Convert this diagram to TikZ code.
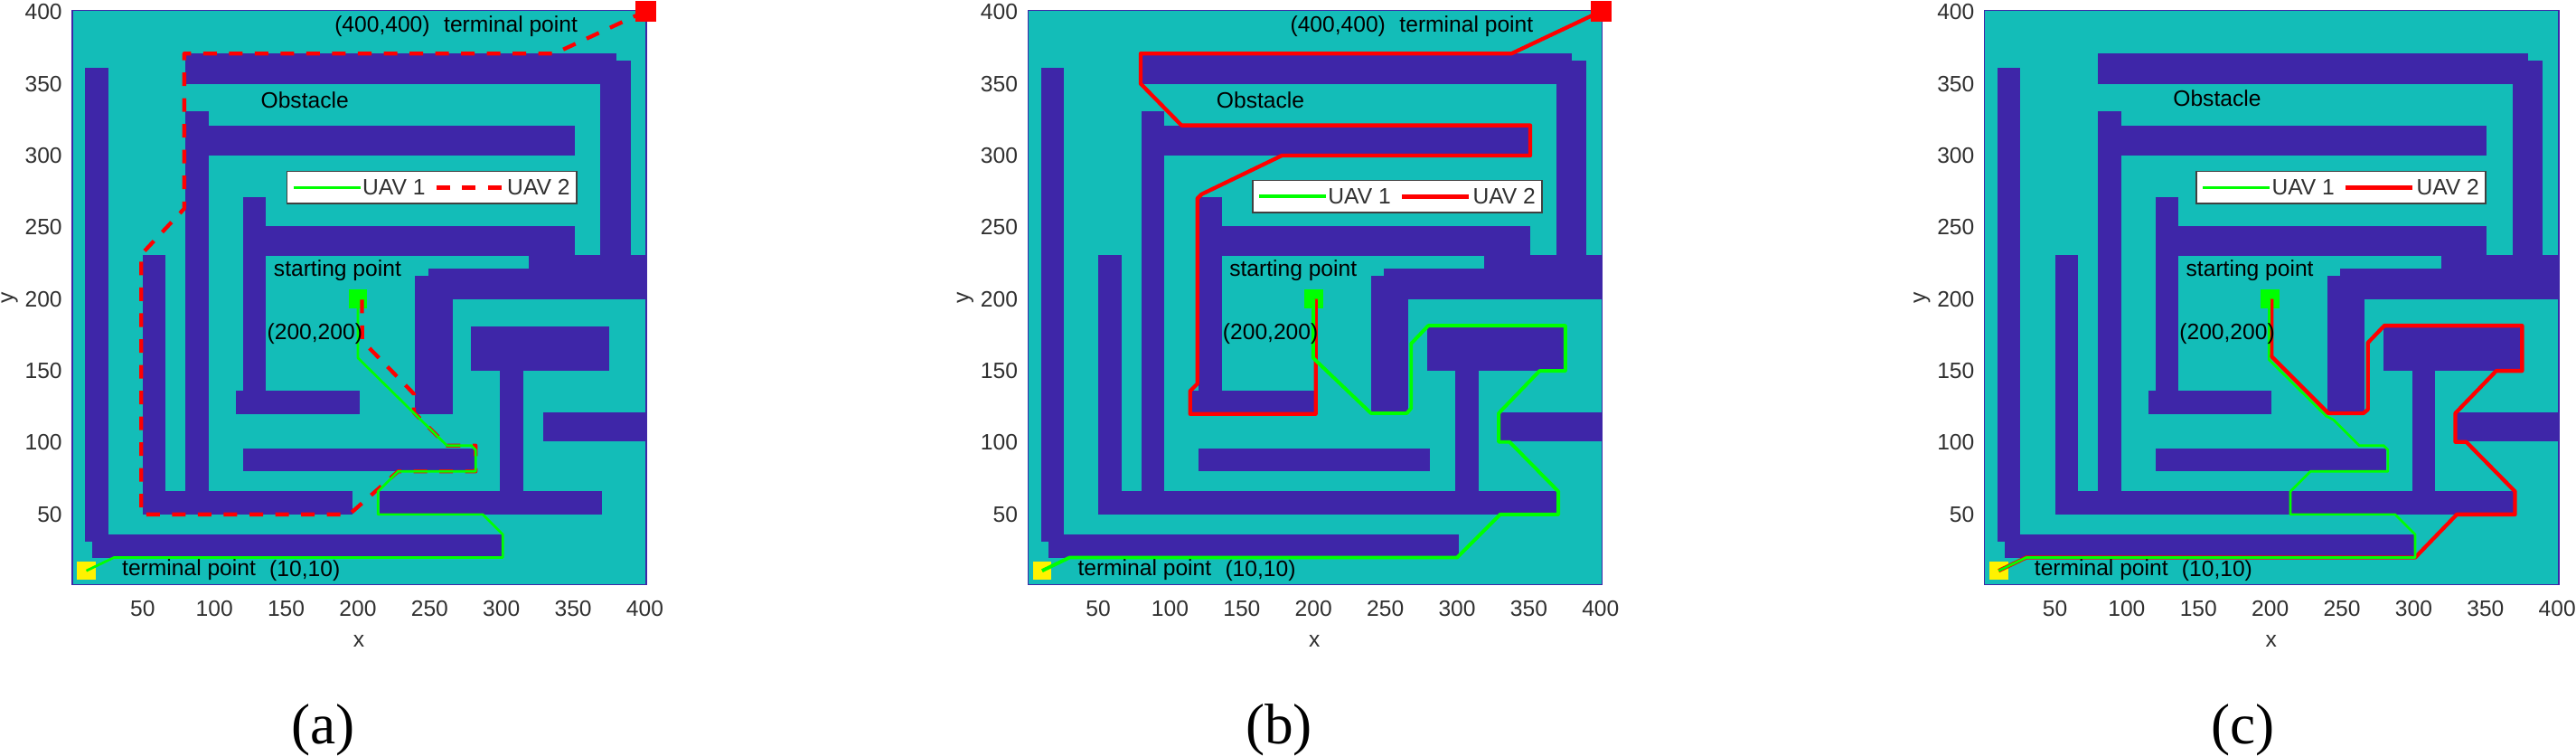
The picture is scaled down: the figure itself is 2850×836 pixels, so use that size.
\documentclass[tikz,border=0pt]{standalone}
\usepackage{fontspec}
\setmainfont{Liberation Sans}
\newfontfamily\capfont{Liberation Serif}
\definecolor{fieldteal}{HTML}{13BDB8}
\definecolor{wallblue}{HTML}{3E26A8}
\definecolor{ticktext}{HTML}{303030}
\tikzset{
  wall/.style = {fill=wallblue, draw=none},
  plaintext/.style = {inner sep=0pt, font=\fontsize{7}{8}\selectfont},
  ticklabel/.style = {plaintext, text=ticktext},
  marker/.style = {inner sep=0pt, minimum size=0.207cm},
  uavone/.style = {draw=green, line width=0.027cm, line join=round},
  uavonethick/.style = {draw=green, line width=0.039cm, line join=round},
  uavtwo/.style = {draw=red, line width=0.043cm, line join=round},
  uavtwodash/.style = {uavtwo, dash pattern=on 0.15cm off 0.135cm},
  legendbox/.style = {draw=black!75, fill=white, line width=0.016cm, inner sep=0pt,
    minimum width=3.2cm, minimum height=0.355cm, anchor=south west},
  caption/.style = {inner sep=0pt, font=\capfont\fontsize{18}{20}\selectfont}
}
% everything that the three panels share, in map units (0..400)
\newcommand{\mazewalls}[1]{
  \fill[fieldteal] (0,0) rectangle (400,400);
  \fill[wall] (9,30) rectangle (25,360);
  \fill[wall] (14,19) rectangle (300,35);
  \fill[wall] (49,49) rectangle (65,230);
  \fill[wall] (79,49) rectangle (95,330);
  \fill[wall] (79,299) rectangle (350,320);
  \fill[wall] (79,349) rectangle (379,370);
  \fill[wall] (368,199) rectangle (389,365);
  \fill[wall] (119,119) rectangle (135,270);
  \fill[wall] (114,119) rectangle (200,135);
  \fill[wall] (119,229) rectangle (350,250);
  \fill[wall] (248,199) rectangle (400,220);
  \fill[wall] (318,199) rectangle (400,230);
  \fill[wall] (239,119) rectangle (265,215);
  \fill[wall] (278,149) rectangle (374,180);
  \fill[wall] (298,49) rectangle (314,160);
  \fill[wall] (328,100) rectangle (400,120);
  \fill[wall] (119,79) rectangle (280,95);
  \draw[wallblue, line width=0.015cm] (0,0) rectangle (400,400);
  \foreach \v in {50,100,...,400} {
    \node[ticklabel] (xt#1\v) at (\v-1,-16.4) {\v};
    \node[ticklabel, anchor=east] (yt#1\v) at (-6.7,\v-1) {\v};
  }
  \node[ticklabel] (xlab#1) at (199.7,-39) {x};
  \node[ticklabel, rotate=90] (ylab#1) at (-43.7,200) {y};
  \node[marker, fill=green] (start#1) at (199,199) {};
  \node[marker, fill=yellow] (home#1) at (9.8,9.8) {};
}
% #1 panel, #2 height of the word Obstacle
\newcommand{\mazelabels}[2]{
  \node[plaintext] (obst#1) at (162,#2) {Obstacle};
  \node[plaintext] (startlab#1) at (184.8,219) {starting point};
  \node[plaintext] (startxy#1) at (169,175) {(200,200)};
  \node[plaintext] (homelab#1) at (81.3,10.5) {terminal point};
  \node[plaintext] (homexy#1) at (162,10) {(10,10)};
}
\newcommand{\goalparts}[1]{
  \node[plaintext] (goalxy#1) at (216,389) {(400,400)};
  \node[plaintext] (goallab#1) at (305.5,389) {terminal point};
}
% #1 panel, #2 place of the box, #3 and #4 line styles
\newcommand{\mazelegend}[4]{
  \node[legendbox] (leg#1) at (#2) {};
  \draw[#3] ([xshift=0.08cm]leg#1.west) -- ([xshift=0.82cm]leg#1.west);
  \draw[#4] ([xshift=1.66cm]leg#1.west) -- ([xshift=2.40cm]leg#1.west);
  \node[ticklabel] (one#1) at ([xshift=1.19cm]leg#1.west) {UAV 1};
  \node[ticklabel] (two#1) at ([xshift=2.79cm]leg#1.west) {UAV 2};
}
\begin{document}
\begin{tikzpicture}[x=0.01cm, y=0.01cm]
  \useasboundingbox (0,0) rectangle (2850,836);

  % panel (a)
  \begin{scope}[shift={(80,189.3)}, x=0.015875cm, y=0.015875cm]
    \mazewalls{a}
    \fill[wall] (49,49) rectangle (195,65);
    \fill[wall] (214,49) rectangle (369,65);
    \node[marker, minimum size=0.23cm, fill=red] (goala) at (399.5,399.5) {};
    \draw[uavtwodash] (goala.center) -- (336,370) -- (78,370) -- (78,262) -- (48,230)
      -- (48,49) -- (193,49) -- (227,79) -- (281,79) -- (281,97) -- (261,97) -- (238,120)
      -- (238,133) -- (202,170) -- ([xshift=0.045cm]starta.center);
    \draw[uavone] (starta.center) -- (199,158) -- (261,97) -- (278,97) -- (281,94) -- (281,79)
      -- (227,79) -- (213,65) -- (213,49) -- (286,49) -- (300,35) -- (300,19) -- (29,19) -- (homea.center);
    \mazelabels{a}{337.5}
    \goalparts{a}
    \mazelegend{a}{149.1,265}{uavone}{uavtwodash}
    \node[caption] (capa) at (175,-101) {(a)};
  \end{scope}

  % panel (b)
  \begin{scope}[shift={(1137.3,189.3)}, x=0.015875cm, y=0.015875cm]
    \mazewalls{b}
    \fill[wall] (49,49) rectangle (369,65);
    \node[marker, minimum size=0.23cm, fill=red] (goalb) at (399.5,399.5) {};
    \draw[uavtwo] (goalb.center) -- (337,370) -- (78.5,370) -- (78.5,349) -- (107,320) -- (350,320)
      -- (350,299) -- (177,299) -- (121,272) -- (118,269) -- (118,140) -- (113,135) -- (113,119)
      -- (200.5,119) -- ([xshift=0.025cm]startb.center);
    \draw[uavonethick] (startb.center) -- (198.7,158) -- (239,119.5) -- (264,119.5) -- (267,123) -- (267,168)
      -- (279,180.5) -- (374.5,180.5) -- (374.5,149) -- (356.5,149) -- (328,119.5) -- (328,99.5) -- (335.6,99.5)
      -- (369.6,65) -- (369.6,49) -- (329,49) -- (299,19) -- (29,19) -- (homeb.center);
    \mazelabels{b}{337.5}
    \goalparts{b}
    \mazelegend{b}{156,258.7}{uavonethick}{uavtwo}
    \node[caption] (capb) at (175,-101) {(b)};
  \end{scope}

  % panel (c)
  \begin{scope}[shift={(2195.7,189.3)}, x=0.015875cm, y=0.015875cm]
    \mazewalls{c}
    \fill[wall] (49,49) rectangle (369,65);
    \draw[uavtwo] ([xshift=0.015cm]startc.center) -- (200,159) -- (239.5,119.5) -- (264,119.5) -- (267,122) -- (267,168.5)
      -- (278.5,180.5) -- (374.5,180.5) -- (374.5,149) -- (356.5,149) -- (328,119.5) -- (328,99.5) -- (335.6,99.5)
      -- (369.6,65) -- (369.6,49) -- (329,49) -- (300,19) -- (29,19) -- (homec.center);
    \draw[uavone] ([xshift=-0.01cm]startc.center) -- (198,157) -- (238,117.5) -- (243,115) -- (261,97) -- (278,97) -- (281,94)
      -- (281,79) -- (227,79) -- (213,65) -- (213,49) -- (286,49) -- (300,35) -- (300,19) -- (29,19) -- (homec.center);
    \mazelabels{c}{339}
    \mazelegend{c}{147,265}{uavone}{uavtwo}
    \node[caption] (capc) at (180,-101) {(c)};
  \end{scope}
\end{tikzpicture}
\end{document}
